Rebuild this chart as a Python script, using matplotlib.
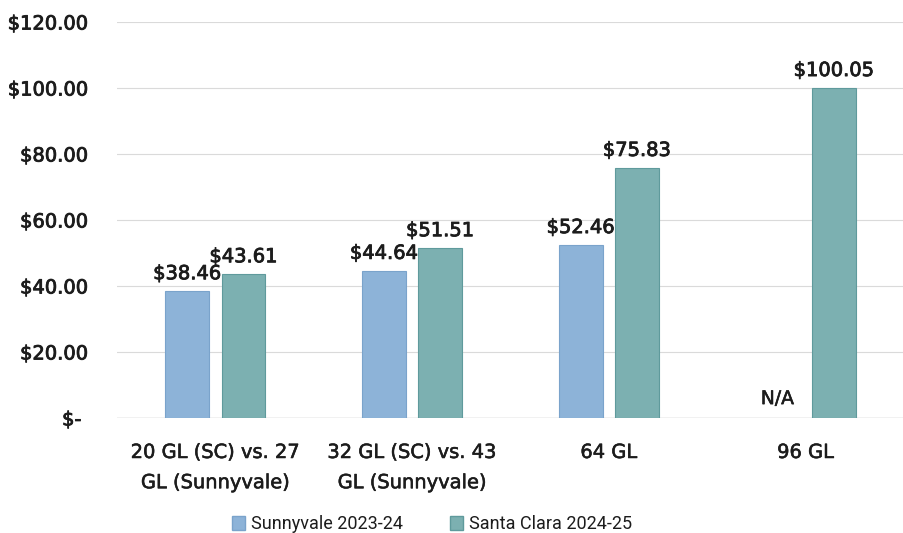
import matplotlib
matplotlib.use("Agg")
import matplotlib.pyplot as plt
import matplotlib.patheffects as pe
from matplotlib.patches import Patch
import numpy as np

categories = ["20 GL (SC) vs. 27\nGL (Sunnyvale)", "32 GL (SC) vs. 43\nGL (Sunnyvale)", "64 GL", "96 GL"]
sunnyvale = [38.46, 44.64, 52.46, None]
santa_clara = [43.61, 51.51, 75.83, 100.05]
series_names = ["Sunnyvale 2023-24", "Santa Clara 2024-25"]
yticks = [0, 20, 40, 60, 80, 100, 120]
ytick_labels = ["$- ", "$20.00", "$40.00", "$60.00", "$80.00", "$100.00", "$120.00"]

c_blue = "#8db3d8"
c_blue_edge = "#7aa3cb"
c_teal = "#7cb0b1"
c_teal_edge = "#5f9a9c"
txt = "#1c1c1c"
thick = [pe.withStroke(linewidth=0.6, foreground=txt)]

fig = plt.figure(figsize=(9.04, 5.33), dpi=100)
ax = fig.add_axes([0.1294, 0.2158, 0.8706, 0.7429])

x = np.arange(len(categories))
w = 0.223
off = 0.143

def label(xp, v):
    t = ax.annotate(f"${v:.2f}", (xp, v), xytext=(0, 8.5), textcoords="offset points",
                    ha="center", va="baseline", fontsize=14, color=txt, zorder=4)
    t.set_path_effects(thick)

for i, v in enumerate(sunnyvale):
    if v is not None:
        ax.bar(x[i] - off, v, w, color=c_blue, edgecolor=c_blue_edge, linewidth=0.8, zorder=3)
        label(x[i] - off, v)
    else:
        t = ax.annotate("N/A", (x[i] - off, 0), xytext=(0, 10), textcoords="offset points",
                        ha="center", va="baseline", fontsize=13.5, color=txt, zorder=4)
        t.set_path_effects([pe.withStroke(linewidth=0.4, foreground=txt)])
for i, v in enumerate(santa_clara):
    ax.bar(x[i] + off, v, w, color=c_teal, edgecolor=c_teal_edge, linewidth=0.8, zorder=3)
    label(x[i] + off, v)

ax.set_xlim(-0.5, len(categories) - 0.5)
ax.set_ylim(0, 120)
ax.set_yticks(yticks)
ax.set_yticklabels(ytick_labels, fontsize=14, color=txt)
for t in ax.get_yticklabels():
    t.set_path_effects(thick)
ax.set_xticks(x)
ax.set_xticklabels(categories, fontsize=14, color=txt, linespacing=1.75)
for t in ax.get_xticklabels():
    t.set_path_effects([pe.withStroke(linewidth=0.4, foreground=txt)])
ax.tick_params(axis="y", length=0, pad=21)
ax.tick_params(axis="x", length=0, pad=18)
for s in ax.spines.values():
    s.set_visible(False)
ax.grid(axis="y", color="#dadada", linewidth=0.8, zorder=0)
ax.axhline(0, color="#c4c4c4", linewidth=1.0, zorder=2)

handles = [Patch(facecolor=c_blue, edgecolor=c_blue_edge), Patch(facecolor=c_teal, edgecolor=c_teal_edge)]
leg = fig.legend(handles, series_names, loc="center", bbox_to_anchor=(0.478, 0.017), ncol=2, frameon=False,
                 prop={"family": "Roboto", "size": 13},
                 handlelength=0.7, handleheight=0.8, handletextpad=0.35, columnspacing=2.6)
for t in leg.get_texts():
    t.set_color(txt)

fig.savefig("out.png", dpi=100)
